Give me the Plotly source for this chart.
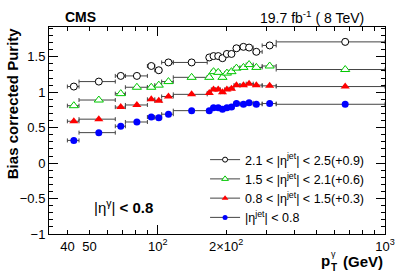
import plotly.graph_objects as go
import numpy as np

# ---- data ----
bin_edges = [40, 45, 65, 72, 90, 97, 104, 117, 165, 172, 180, 188.5, 197, 206,
             216.5, 230, 245, 263, 288, 332, 1000]
pt_centers = [42.7, 55, 68.7, 80.9, 93.6, 101, 111.4, 140.9, 168.5, 175.9, 184.5,
              192.6, 201.4, 211, 221.9, 238.2, 252.2, 271.5, 310.7, 668]

purity_eta_21_25 = [0.18, 0.25, 0.33, 0.33, 0.47, 0.41, 0.52, 0.52, 0.59, 0.61,
                    0.61, 0.58, 0.64, 0.64, 0.72, 0.74, 0.73, 0.67, 0.76, 0.81]
purity_eta_15_21 = [0.21, 0.29, 0.38, 0.47, 0.47, 0.50, 0.55, 0.61, 0.61, 0.69,
                    0.68, 0.61, 0.67, 0.69, 0.74, 0.75, 0.79, 0.75, 0.77, 0.72]
purity_eta_08_15 = [0.29, 0.32, 0.49, 0.52, 0.60, 0.58, 0.64, 0.67, 0.69, 0.74,
                    0.74, 0.70, 0.74, 0.75, 0.80, 0.80, 0.82, 0.80, 0.79, 0.78]
purity_eta_00_08 = [0.32, 0.43, 0.52, 0.58, 0.65, 0.64, 0.69, 0.74, 0.74, 0.78,
                    0.78, 0.76, 0.78, 0.79, 0.84, 0.83, 0.85, 0.83, 0.84, 0.83]

err_eta_21_25 = [0.01]*19 + [0.04]
err_eta_15_21 = [0.01]*20
err_eta_08_15 = [0.01]*20
err_eta_00_08 = [0.01]*20

offsets = [0.9, 0.6, 0.3, 0.0]
labels = ["2.1 < |η<sup>jet</sup>| < 2.5(+0.9)",
          "1.5 < |η<sup>jet</sup>| < 2.1(+0.6)",
          "0.8 < |η<sup>jet</sup>| < 1.5(+0.3)",
          "|η<sup>jet</sup>| < 0.8"]

x_tickvals = [40, 50, 100, 200, 1000]
x_ticktext = ["40", "50", "10<sup>2</sup>", "2×10<sup>2</sup>", "10<sup>3</sup>"]

# ---- styles ----
series = [
    (purity_eta_21_25, err_eta_21_25, dict(symbol="circle", color="white", line=dict(color="black", width=1), size=7)),
    (purity_eta_15_21, err_eta_15_21, dict(symbol="triangle-up", color="white", line=dict(color="#00c800", width=1), size=8)),
    (purity_eta_08_15, err_eta_08_15, dict(symbol="triangle-up", color="#ff0000", line=dict(color="#ff0000", width=0), size=8)),
    (purity_eta_00_08, err_eta_00_08, dict(symbol="circle", color="#0000ff", line=dict(color="#0000ff", width=0), size=7)),
]

edges = np.array(bin_edges)
xc = np.array(pt_centers)
ex_plus = edges[1:] - xc
ex_minus = xc - edges[:-1]

L, R, T, B = 49, 387, 27, 234
PW, PH = R - L, B - T


def px(x):
    return (x - L) / PW


def py(y):
    return (B - y) / PH


fig = go.Figure()
FONT = "Liberation Sans, Arial, Helvetica, sans-serif"
barcol = "#444444"

for (vals, errs, mk), off in zip(series, offsets):
    y = np.array(vals) + off
    fig.add_trace(go.Scatter(
        x=xc, y=y, mode="markers", marker=mk, showlegend=False, hoverinfo="skip",
        error_x=dict(type="data", array=ex_plus, arrayminus=ex_minus, symmetric=False,
                     color=barcol, thickness=1, width=2),
        error_y=dict(type="data", array=errs, color=barcol, thickness=1, width=2),
    ))
for (vals, errs, mk), lab in zip(series, labels):
    fig.add_trace(go.Scatter(
        x=[None], y=[None], mode="lines+markers", name=lab,
        marker=dict(mk, size=mk["size"] - 2), line=dict(color=barcol, width=1),
    ))

minor_x = [60, 70, 80, 90, 300, 400, 500, 600, 700, 800, 900]
all_x = sorted(x_tickvals + minor_x)
all_text = [x_ticktext[x_tickvals.index(v)] if v in x_tickvals else "" for v in all_x]

fig.add_trace(go.Scatter(x=[None], y=[None], xaxis="x2", showlegend=False))

fig.update_layout(
    width=407, height=276, autosize=False,
    margin=dict(l=L, r=407 - R, t=T, b=276 - B),
    paper_bgcolor="white", plot_bgcolor="white",
    font=dict(family=FONT, size=13, color="black"),
    xaxis=dict(type="log", range=[np.log10(33.2), 3], tickvals=all_x, ticktext=all_text,
               ticks="inside", ticklen=4, tickcolor="black", showgrid=False, zeroline=False,
               showline=True, linecolor="black", linewidth=1, mirror="ticks",
               tickfont=dict(size=13)),
    xaxis2=dict(type="log", range=[np.log10(33.2), 3], overlaying="x", tickvals=[100, 1000],
                ticktext=["", ""], ticks="inside", ticklen=9, tickcolor="black",
                showgrid=False, zeroline=False, showline=False, mirror="ticks", side="bottom"),
    yaxis=dict(range=[-1, 1.92], tickvals=[-1, -0.5, 0, 0.5, 1, 1.5],
               ticktext=["−1", "−0.5", "0", "0.5", "1", "1.5"],
               ticks="inside", ticklen=9, tickcolor="black", showgrid=False, zeroline=False,
               showline=True, linecolor="black", linewidth=1, mirror="ticks",
               minor=dict(dtick=0.1, ticks="inside", ticklen=4, tickcolor="black"),
               tickfont=dict(size=13)),
    legend=dict(x=px(206), xanchor="left", y=py(145), yanchor="top",
                bgcolor="rgba(0,0,0,0)", font=dict(size=12.5), tracegroupgap=0),
    showlegend=True,
)

fig.add_annotation(text="<b>CMS</b>", x=px(81), y=py(17), xref="paper", yref="paper",
                   xanchor="center", yanchor="middle", showarrow=False, font=dict(size=14))
fig.add_annotation(text="19.7 fb<sup>-1</sup> ( 8 TeV)", x=px(368), y=py(17),
                   xref="paper", yref="paper", xanchor="right", yanchor="middle",
                   showarrow=False, font=dict(size=14))
fig.add_annotation(text="<b>Bias corrected Purity</b>", textangle=-90,
                   x=px(12.5), y=py(103.5), xref="paper", yref="paper",
                   xanchor="center", yanchor="middle", showarrow=False, font=dict(size=15))
fig.add_annotation(text="|η<sup>γ</sup>| <b>< 0.8</b>", x=px(92), y=py(206),
                   xref="paper", yref="paper", xanchor="left", yanchor="middle",
                   showarrow=False, font=dict(size=15))
# x title: p with stacked T and gamma
fig.add_annotation(text="<b>p</b>", x=px(334), y=py(260),
                   xref="paper", yref="paper", xanchor="right", yanchor="middle",
                   showarrow=False, font=dict(size=15))
fig.add_annotation(text="<b>T</b>", x=px(331), y=py(267),
                   xref="paper", yref="paper", xanchor="left", yanchor="middle",
                   showarrow=False, font=dict(size=10))
fig.add_annotation(text="γ", x=px(331), y=py(254),
                   xref="paper", yref="paper", xanchor="left", yanchor="middle",
                   showarrow=False, font=dict(size=9))
fig.add_annotation(text="<b>(GeV)</b>", x=px(387), y=py(261),
                   xref="paper", yref="paper", xanchor="right", yanchor="middle",
                   showarrow=False, font=dict(size=15))

fig.write_html("out.html", config={"displayModeBar": False},
               post_script="document.body.style.margin='0';")
